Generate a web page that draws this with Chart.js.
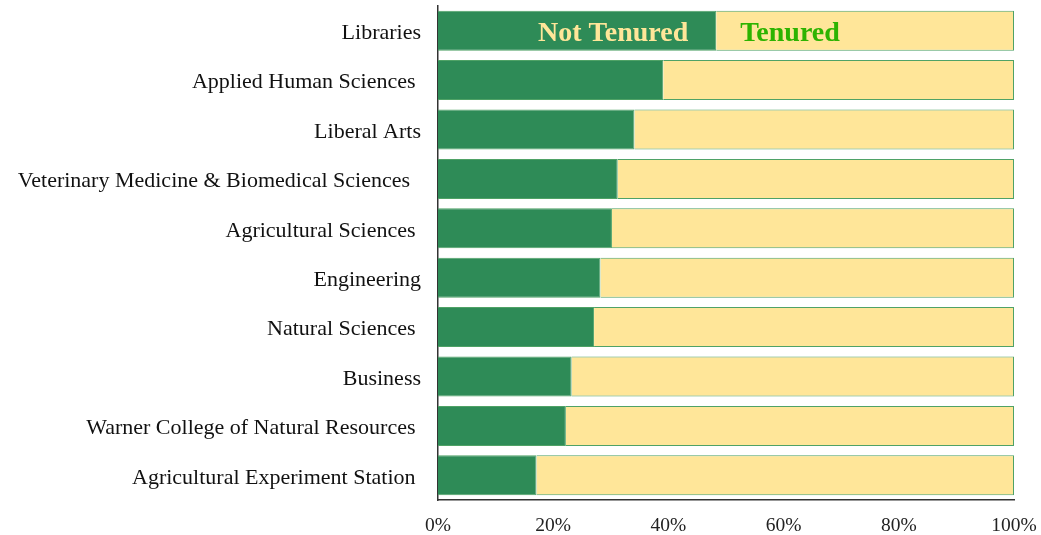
<!DOCTYPE html>
<html>
<head>
<meta charset="utf-8">
<script src="https://cdn.jsdelivr.net/npm/chart.js@4.4.1/dist/chart.umd.min.js"></script>
<style>
  html, body { margin: 0; padding: 0; background: #fff; }
  #wrap { width: 1041px; height: 535px; }
</style>
</head>
<body>
<div id="wrap"><canvas id="grafico"></canvas></div>
<script>
const colleges = [
    'Libraries',
    'Applied Human Sciences ',
    'Liberal Arts',
    'Veterinary Medicine & Biomedical Sciences  ',
    'Agricultural Sciences ',
    'Engineering',
    'Natural Sciences ',
    'Business',
    'Warner College of Natural Resources ',
    'Agricultural Experiment Station '
]
const notTenured = [48.3, 39.1, 34.1, 31.2, 30.2, 28.2, 27.1, 23.2, 22.2, 17.1]
const tenured = notTenured.map(v => 100 - v)
const xTicks = [0, 20, 40, 60, 80, 100]

const fonte = "'Liberation Serif', 'DejaVu Serif', serif"

// writes the two series names inside the top bar
const rotulosBarra = {
    id: 'rotulosBarra',
    afterDatasetsDraw(chart) {
        const ctx = chart.ctx
        const barra = chart.getDatasetMeta(0).data[0]
        ctx.save()
        ctx.font = 'bold 28px ' + fonte
        ctx.textBaseline = 'middle'
        ctx.textAlign = 'right'
        ctx.fillStyle = '#FFE699'
        ctx.fillText(chart.data.datasets[0].label, barra.x - 28, barra.y + 3)
        ctx.textAlign = 'left'
        ctx.fillStyle = '#2DB300'
        ctx.fillText(chart.data.datasets[1].label, barra.x + 24, barra.y + 3)
        ctx.restore()
    }
}

const grafico = new Chart(document.getElementById('grafico'), {
    type: 'bar',
    data: {
        labels: colleges,
        datasets: [{
            label: 'Not Tenured',
            data: notTenured,
            backgroundColor: '#2E8B57',
            borderColor: '#4FA266',
            borderWidth: 1,
            barPercentage: 0.81,
            categoryPercentage: 1
        }, {
            label: 'Tenured',
            data: tenured,
            backgroundColor: '#FFE699',
            borderColor: '#4FA266',
            borderWidth: 1,
            barPercentage: 0.81,
            categoryPercentage: 1
        }]
    },
    options: {
        indexAxis: 'y',
        responsive: true,
        maintainAspectRatio: false,
        animation: false,
        layout: { padding: { top: 6, right: 27, left: 0, bottom: 0 } },
        plugins: {
            legend: { display: false },
            tooltip: { enabled: false }
        },
        scales: {
            x: {
                stacked: true,
                min: 0,
                max: 100,
                afterBuildTicks: s => { s.ticks = xTicks.map(v => ({ value: v })) },
                grid: { display: false, drawTicks: false },
                border: { display: true, color: '#333', width: 1.5 },
                ticks: {
                    callback: v => v + '%',
                    color: '#222',
                    padding: 14,
                    maxRotation: 0,
                    font: { family: fonte, size: 19.5 }
                },
                afterFit: s => {
                    s.height = 35
                    s.paddingLeft = 0
                    s.paddingRight = 0
                }
            },
            y: {
                stacked: true,
                grid: { display: false, drawTicks: false },
                border: { display: true, color: '#333', width: 1.5 },
                ticks: {
                    color: '#111',
                    padding: 17,
                    labelOffset: 2.5,
                    autoSkip: false,
                    font: { family: fonte, size: 22 }
                },
                afterFit: s => {
                    s.width = 438
                    s.paddingTop = 0
                    s.paddingBottom = 0
                }
            }
        }
    },
    plugins: [rotulosBarra]
})
</script>
</body>
</html>
